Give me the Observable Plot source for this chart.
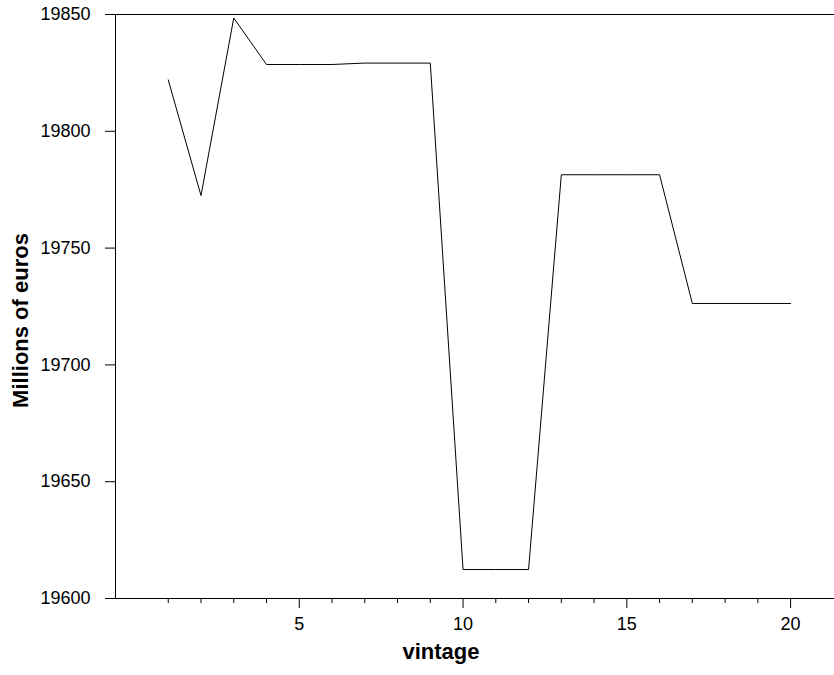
<!DOCTYPE html>
<html>
<head>
<meta charset="utf-8">
<script src="https://cdn.jsdelivr.net/npm/d3@7"></script>
<script src="https://cdn.jsdelivr.net/npm/@observablehq/plot@0.6"></script>
<style>
  html, body { margin: 0; padding: 0; background: #fff; }
  #chart svg { display: block; }
</style>
</head>
<body>
<div id="chart"></div>
<script>
const vintage = [1,2,3,4,5,6,7,8,9,10,11,12,13,14,15,16,17,18,19,20];
const millions = [19822, 19772.5, 19848.5, 19828.6, 19828.6, 19828.6, 19829.2, 19829.2, 19829.2,
  19612.4, 19612.4, 19612.4, 19781.4, 19781.4, 19781.4, 19781.4, 19726.3, 19726.3, 19726.3, 19726.3];
const xMajorTicks = [5, 10, 15, 20];
const xMinorTicks = [1,2,3,4,6,7,8,9,11,12,13,14,16,17,18,19];
const yTicks = [19600, 19650, 19700, 19750, 19800, 19850];
const xDomain = [-0.61, 21.34];
const yDomain = [19600, 19850];
const xLabel = "vintage";
const yLabel = "Millions of euros";

const data = vintage.map((v, i) => ({vintage: v, value: millions[i]}));
const font = "'Liberation Sans', Arial, Helvetica, sans-serif";

const chart = Plot.plot({
  width: 834,
  height: 675,
  marginLeft: 115,
  marginRight: 0,
  marginTop: 14,
  marginBottom: 77,
  style: {fontFamily: font, fontSize: "18px", color: "#000", background: "#fff"},
  x: {domain: xDomain},
  y: {domain: yDomain},
  marks: [
    Plot.axisX({ticks: xMinorTicks, tickSize: 5, tickFormat: () => "", label: null}),
    Plot.axisX({ticks: xMajorTicks, tickSize: 10, tickPadding: 9, fontSize: 18, tickFormat: d => String(d), label: null}),
    Plot.axisY({ticks: yTicks, tickSize: 10, tickPadding: 15, fontSize: 18, tickFormat: d => String(d), label: null}),
    Plot.ruleX([xDomain[0]], {stroke: "#000", strokeWidth: 1}),
    Plot.ruleY([yDomain[0]], {stroke: "#000", strokeWidth: 1}),
    Plot.ruleY([yDomain[1]], {stroke: "#000", strokeWidth: 1}),
    Plot.line(data, {x: "vintage", y: "value", stroke: "#000", strokeWidth: 1}),
    Plot.text([xLabel], {frameAnchor: "bottom", text: d => d, textAnchor: "middle", dx: -34, dy: 60,
      fontSize: 22, fontWeight: "bold", fill: "#000"}),
    Plot.text([yLabel], {frameAnchor: "left", text: d => d, textAnchor: "middle", rotate: -90, dx: -95, dy: 14,
      fontSize: 22, fontWeight: "bold", fill: "#000"})
  ]
});
document.getElementById("chart").appendChild(chart);
</script>
</body>
</html>
